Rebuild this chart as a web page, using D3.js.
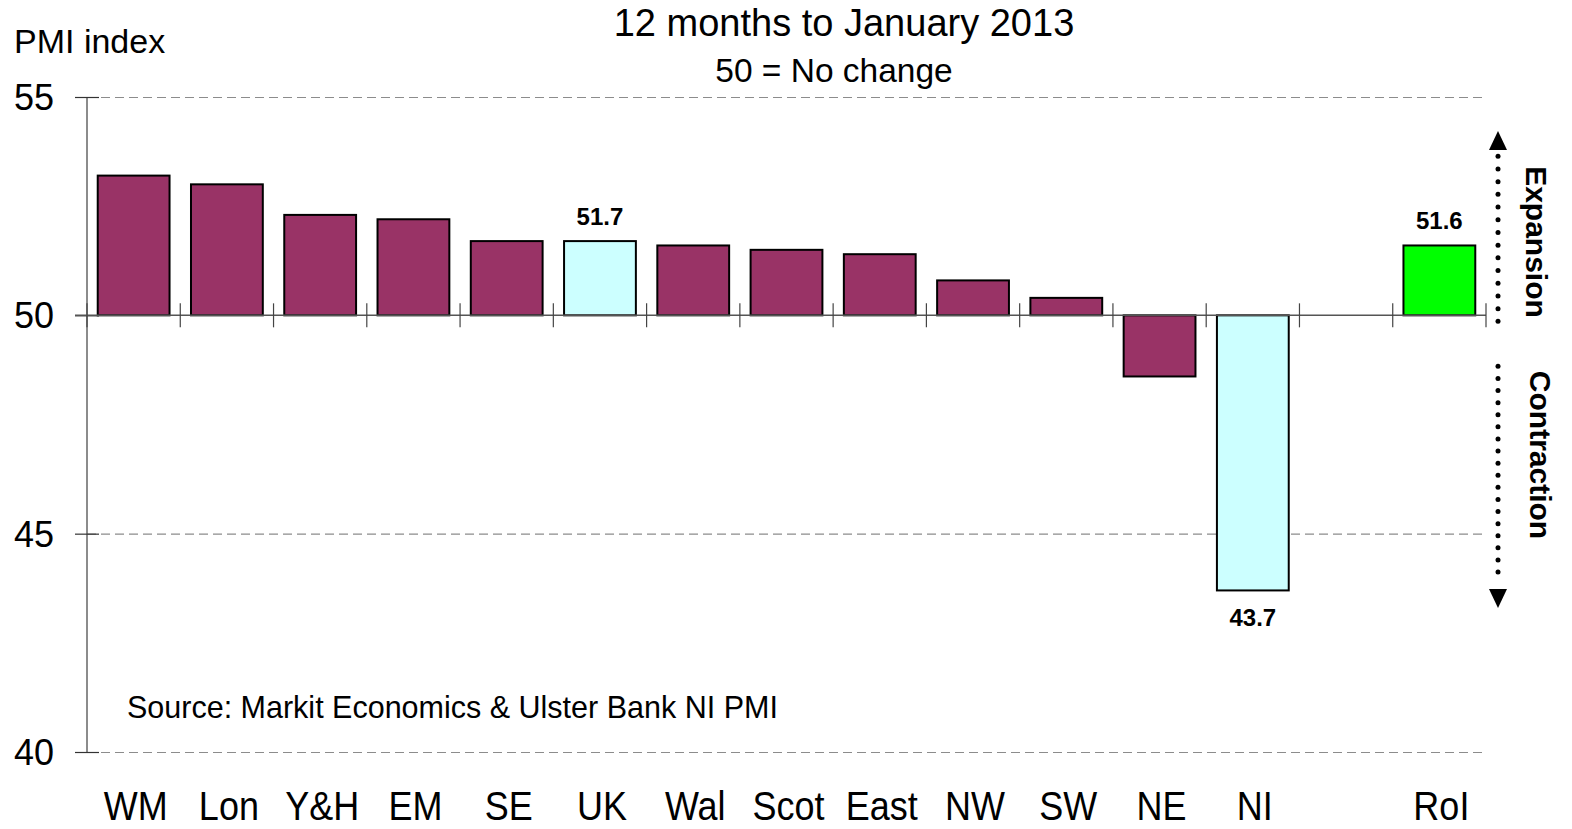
<!DOCTYPE html>
<html>
<head>
<meta charset="utf-8">
<script src="https://cdn.jsdelivr.net/npm/d3@7"></script>
<style>
  body { margin: 0; background: #fff; }
  text { font-family: "Liberation Sans", Arial, sans-serif; fill: #000; }
  .grid line { stroke: #8c8c8c; stroke-dasharray: 9 5; stroke-width: 1.2; }
  .grid path { display: none; }
</style>
</head>
<body>
<div id="chart"></div>
<script>
// regions and PMI readings
var regions = ["WM", "Lon", "Y&H", "EM", "SE", "UK", "Wal", "Scot", "East", "NW", "SW", "NE", "NI", "", "RoI"];
var pmi = [53.2, 53.0, 52.3, 52.2, 51.7, 51.7, 51.6, 51.5, 51.4, 50.8, 50.4, 48.6, 43.7, null, 51.6];
var barColours = ["#993366", "#993366", "#993366", "#993366", "#993366", "#ccffff", "#993366", "#993366", "#993366", "#993366", "#993366", "#993366", "#ccffff", null, "#00ff00"];
var labelled = ["UK", "NI", "RoI"];
var yTicks = [40, 45, 50, 55];

var W = 1572, H = 829;
var margin = { top: 97, right: 86, bottom: 77, left: 87 },
    width = W - margin.left - margin.right,
    height = H - margin.top - margin.bottom;

var svg = d3.select("#chart").append("svg")
    .attr("width", W)
    .attr("height", H);

var g = svg.append("g")
    .attr("transform", "translate(" + margin.left + "," + margin.top + ")");

var x = d3.scaleBand()
    .domain(regions.map(function(d, i) { return i; }))
    .range([0, width])
    .padding(0);

var y = d3.scaleLinear()
    .domain([40, 55])
    .range([height, 0]);

// dashed gridlines
g.append("g")
    .attr("class", "grid")
    .call(d3.axisLeft(y).tickValues([40, 45, 55]).tickSize(-width).tickFormat(""));

// y axis, ticks cross the line
var yAxis = g.append("g")
    .call(d3.axisLeft(y).tickValues(yTicks).tickSize(12).tickPadding(14));
yAxis.select(".domain").attr("stroke", "#666").attr("stroke-width", 1.5).attr("d", "M0," + y(55) + "V" + y(40));
yAxis.selectAll(".tick line").attr("x1", 12).attr("x2", -12).attr("stroke", "#333").attr("stroke-width", 1.2);
yAxis.selectAll(".tick text")
    .attr("x", -73).attr("dy", null).attr("y", 12.5)
    .attr("text-anchor", "start")
    .style("font-size", "36px");

// bars
var bw = x.bandwidth() * 0.77;
g.selectAll(".bar")
    .data(pmi.map(function(v, i) { return { i: i, v: v }; }).filter(function(d) { return d.v !== null; }))
    .enter().append("rect")
    .attr("class", "bar")
    .attr("x", function(d) { return x(d.i) + (x.bandwidth() - bw) / 2; })
    .attr("width", bw)
    .attr("y", function(d) { return y(Math.max(50, d.v)); })
    .attr("height", function(d) { return Math.abs(y(d.v) - y(50)); })
    .attr("fill", function(d) { return barColours[d.i]; })
    .attr("stroke", "#000")
    .attr("stroke-width", 2);

// the 50 line with category separators
g.append("line")
    .attr("x1", -12).attr("x2", width)
    .attr("y1", y(50)).attr("y2", y(50))
    .attr("stroke", "#555").attr("stroke-width", 1.5);

var bounds = regions.map(function(d, i) { return x(i); }).concat([width]);
g.selectAll(".sep")
    .data(bounds)
    .enter().append("line")
    .attr("x1", function(d) { return d; }).attr("x2", function(d) { return d; })
    .attr("y1", y(50) - 12).attr("y2", y(50) + 12)
    .attr("stroke", "#444").attr("stroke-width", 1.2);

// category labels (tall, slightly condensed in the original)
g.selectAll(".cat")
    .data(regions)
    .enter().append("text")
    .attr("transform", function(d, i) {
        return "translate(" + (x(i) + x.bandwidth() / 2 + 2) + "," + (height + 68) + ") scale(1,1.12)";
    })
    .attr("text-anchor", "middle")
    .style("font-size", "36px")
    .text(function(d) { return d; });

// value labels
g.selectAll(".val")
    .data(pmi.map(function(v, i) { return { i: i, v: v }; }).filter(function(d) { return labelled.indexOf(regions[d.i]) >= 0; }))
    .enter().append("text")
    .attr("x", function(d) { return x(d.i) + x.bandwidth() / 2; })
    .attr("y", function(d) { return d.v >= 50 ? y(d.v) - 16 : y(d.v) + 36; })
    .attr("text-anchor", "middle")
    .style("font-size", "24px")
    .style("font-weight", "bold")
    .text(function(d) { return d.v.toFixed(1); });

// titles
svg.append("text").attr("x", 844).attr("y", 36).attr("text-anchor", "middle")
    .style("font-size", "38px").text("12 months to January 2013");
svg.append("text").attr("x", 834).attr("y", 82).attr("text-anchor", "middle")
    .style("font-size", "33.5px").text("50 = No change");
svg.append("text").attr("x", 14).attr("y", 53)
    .style("font-size", "34px").text("PMI index");
svg.append("text").attr("x", 127).attr("y", 718)
    .style("font-size", "30.5px").text("Source: Markit Economics & Ulster Bank NI PMI");

// expansion / contraction arrows
var ax = 1498;
var dotsUp = d3.range(y(50) + 6, y(55) + 55, -12.7);
var dotsDown = d3.range(y(50) + 51, y(45) + 44, 12.1);
svg.append("g").selectAll("circle")
    .data(dotsUp.concat(dotsDown))
    .enter().append("circle")
    .attr("cx", ax)
    .attr("cy", function(d) { return margin.top + d; })
    .attr("r", 2.5)
    .attr("fill", "#000");
svg.append("path")
    .attr("d", "M" + ax + ",131 l-9,19 h18 z")
    .attr("fill", "#000");
svg.append("path")
    .attr("d", "M" + ax + ",608 l-9,-19 h18 z")
    .attr("fill", "#000");
svg.append("text")
    .attr("transform", "translate(1526,242) rotate(90)")
    .attr("text-anchor", "middle")
    .style("font-size", "30px").style("font-weight", "bold")
    .text("Expansion");
svg.append("text")
    .attr("transform", "translate(1530,455) rotate(90)")
    .attr("text-anchor", "middle")
    .style("font-size", "30px").style("font-weight", "bold")
    .text("Contraction");
</script>
</body>
</html>
